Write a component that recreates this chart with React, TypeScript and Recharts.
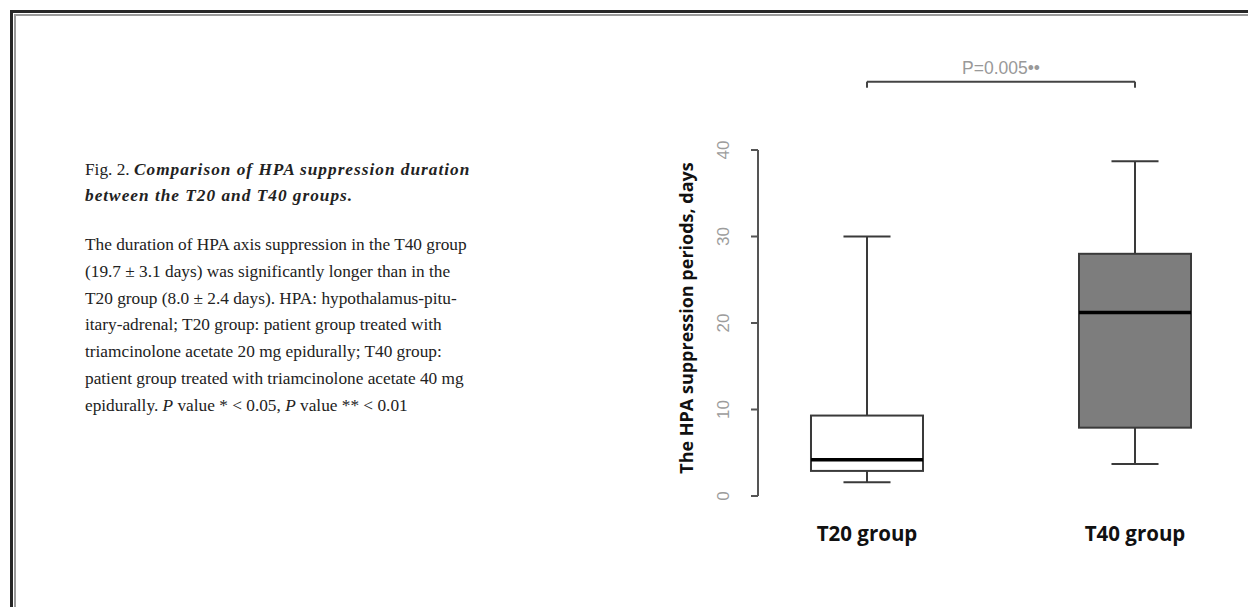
import React from "react";
import {
  Bar,
  ComposedChart,
  ReferenceLine,
  XAxis,
  YAxis,
  Label,
} from "recharts";

// box plot values (days)
const groups = ["T20 group", "T40 group"];
const positions = [1, 2];
const whiskerLow = [1.6, 3.7];
const q1 = [2.9, 7.9];
const median = [4.2, 21.2];
const q3 = [9.3, 28.0];
const whiskerHigh = [30.0, 38.7];
const yTicks = [0, 10, 20, 30, 40];
const pLabel = "P=0.005••";
const bracketY = 47.9;
const bracketFoot = 47.2;

const boxFills = ["#ffffff", "#7d7d7d"];

const rows = groups.map((name, i) => ({
  pos: positions[i],
  name,
  box: [q1[i], q3[i]],
  lo: whiskerLow[i],
  med: median[i],
  hi: whiskerHigh[i],
}));

function BoxShape(props: any) {
  const { x, y, width, height, payload, index } = props;
  const top = Math.min(y, y + height);
  const h = Math.abs(height);
  const [a, b] = payload.box;
  const k = h / (b - a);
  const yOf = (v: number) => top + h - (v - a) * k;
  const cx = x + width / 2;
  const cap = width * 0.21;
  const edge = "#3a3a3a";
  return (
    <g>
      <line x1={cx} x2={cx} y1={yOf(payload.hi)} y2={top} stroke={edge} strokeWidth={2} />
      <line x1={cx} x2={cx} y1={top + h} y2={yOf(payload.lo)} stroke={edge} strokeWidth={2} />
      <line x1={cx - cap} x2={cx + cap} y1={yOf(payload.hi)} y2={yOf(payload.hi)} stroke={edge} strokeWidth={2} />
      <line x1={cx - cap} x2={cx + cap} y1={yOf(payload.lo)} y2={yOf(payload.lo)} stroke={edge} strokeWidth={2} />
      <rect x={x} y={top} width={width} height={h} fill={boxFills[index]} stroke={edge} strokeWidth={2} />
      <line x1={x} x2={x + width} y1={yOf(payload.med)} y2={yOf(payload.med)} stroke="#000" strokeWidth={3.5} />
    </g>
  );
}

function YTick(props: any) {
  const { x, y, payload } = props;
  return (
    <text
      x={x}
      y={y}
      dy="0.36em"
      transform={`rotate(-90 ${x} ${y})`}
      textAnchor="middle"
      fill="#9c9c9c"
      fontSize={17}
      fontFamily="Liberation Sans, Arial, sans-serif"
    >
      {payload.value}
    </text>
  );
}

function XTick(props: any) {
  const { x, y, payload } = props;
  return (
    <text
      x={x}
      y={y}
      dy="0.71em"
      textAnchor="middle"
      fill="#111"
      fontSize={20.5}
      fontWeight={700}
      fontFamily="Open Sans, Noto Sans, sans-serif"
    >
      {groups[payload.value - 1]}
    </text>
  );
}

function AxisTitle(props: any) {
  const { viewBox } = props;
  const cx = viewBox.x + 37;
  const cy = viewBox.y + viewBox.height / 2 - 5;
  return (
    <text
      x={cx}
      y={cy}
      dy="0.36em"
      transform={`rotate(-90 ${cx} ${cy})`}
      textAnchor="middle"
      fill="#111"
      fontSize={18}
      fontWeight={700}
      fontFamily="Open Sans, Noto Sans, sans-serif"
    >
      The HPA suppression periods, days
    </text>
  );
}

const serif = "Liberation Serif, Times New Roman, serif";

export default function App() {
  return (
    <div style={{ position: "absolute", left: 0, top: 0, width: 1248, height: 607, background: "#fff", overflow: "hidden" }}>
      {/* double frame, top and left only */}
      <div style={{ position: "absolute", left: 10, top: 10, right: 0, bottom: 0, borderTop: "3px solid #262626", borderLeft: "3px solid #262626" }} />
      <div style={{ position: "absolute", left: 14, top: 14, right: 0, bottom: 0, borderTop: "2px solid #9a9a9a", borderLeft: "2px solid #9a9a9a" }} />

      <div style={{ position: "absolute", left: 85, top: 157, width: 430, fontFamily: serif, fontSize: 17.3, color: "#222" }}>
        <div style={{ whiteSpace: "nowrap", lineHeight: "26px" }}>
          Fig. 2.{" "}
          <b style={{ fontStyle: "italic", letterSpacing: 1 }}>
            Comparison of HPA suppression duration
            <br />
            between the T20 and T40 groups.
          </b>
        </div>
        <div style={{ whiteSpace: "nowrap", marginTop: 23, lineHeight: "26.8px" }}>
          The duration of HPA axis suppression in the T40 group
          <br />
          (19.7 ± 3.1 days) was significantly longer than in the
          <br />
          T20 group (8.0 ± 2.4 days). HPA: hypothalamus-pitu-
          <br />
          itary-adrenal; T20 group: patient group treated with
          <br />
          triamcinolone acetate 20 mg epidurally; T40 group:
          <br />
          patient group treated with triamcinolone acetate 40 mg
          <br />
          epidurally. <i>P</i> value * &lt; 0.05, <i>P</i> value ** &lt; 0.01
        </div>
      </div>

      <div style={{ position: "absolute", left: 650, top: 40 }}>
        <ComposedChart
          width={598}
          height={560}
          data={rows}
          margin={{ top: 110, right: 0, bottom: 64, left: 0 }}
        >
          <XAxis
            dataKey="pos"
            type="number"
            domain={[0.5933, 2.4216]}
            ticks={positions}
            axisLine={false}
            tickLine={false}
            tickSize={6}
            tickMargin={24}
            height={40}
            tick={<XTick />}
          />
          <YAxis
            type="number"
            domain={[0, 40]}
            ticks={yTicks}
            width={108}
            axisLine={{ stroke: "#555", strokeWidth: 2 }}
            tickLine={{ stroke: "#555", strokeWidth: 2 }}
            tickSize={7}
            tickMargin={28}
            tick={<YTick />}
          >
            <Label content={<AxisTitle />} />
          </YAxis>
          <Bar dataKey="box" barSize={112} shape={<BoxShape />} isAnimationActive={false} />
          <ReferenceLine
            segment={[{ x: positions[0], y: bracketY }, { x: positions[1], y: bracketY }]}
            ifOverflow="visible"
            stroke="#444"
            strokeWidth={2}
            label={{ value: pLabel, position: "top", offset: 8, fill: "#999", fontSize: 17.5, fontFamily: "Liberation Sans, Arial, sans-serif" }}
          />
          <ReferenceLine
            segment={[{ x: positions[0], y: bracketY }, { x: positions[0], y: bracketFoot }]}
            ifOverflow="visible"
            stroke="#444"
            strokeWidth={2}
          />
          <ReferenceLine
            segment={[{ x: positions[1], y: bracketY }, { x: positions[1], y: bracketFoot }]}
            ifOverflow="visible"
            stroke="#444"
            strokeWidth={2}
          />
        </ComposedChart>
      </div>
    </div>
  );
}
